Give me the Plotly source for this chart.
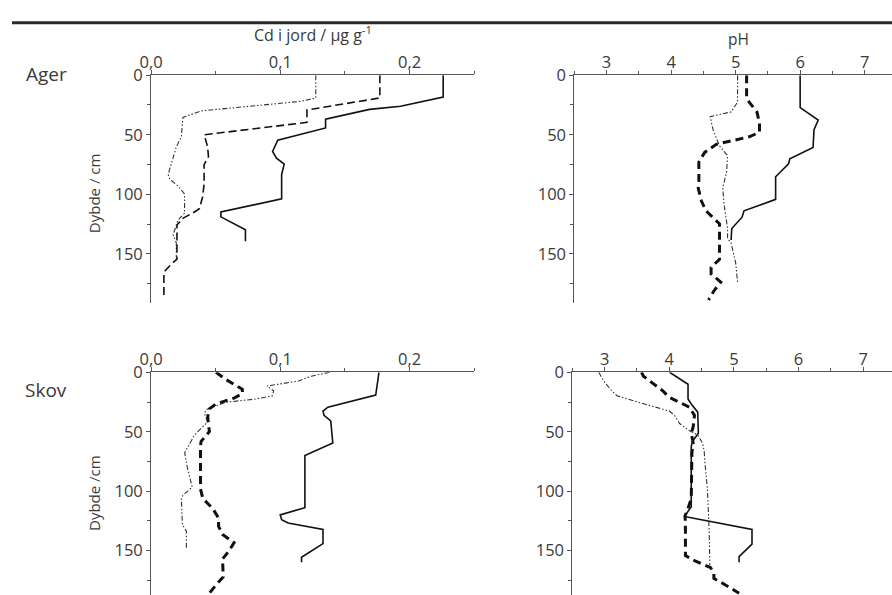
import plotly.graph_objects as go

# ---- Ager: Cd i jord (µg/g) mod dybde (cm) ----
ager_cd_1_depth = [0, 18.3, 26, 28.7, 36.9, 44.3, 54.6, 60, 64, 69.7, 74.6, 83.3, 103.8, 114.8, 118.9, 129.8, 139.3]
ager_cd_1 = [0.226, 0.226, 0.193, 0.169, 0.135, 0.135, 0.098, 0.096, 0.094, 0.097, 0.103, 0.101, 0.101, 0.054, 0.054, 0.073, 0.073]

ager_cd_2_depth = [0, 19.1, 29.2, 39.6, 50, 60.1, 68.3, 75.1, 91.5, 102.5, 112, 114.8, 120.2, 125.7, 154.4, 158.5, 165.3, 184.4]
ager_cd_2 = [0.177, 0.177, 0.1206, 0.1206, 0.0411, 0.0437, 0.0444, 0.041, 0.041, 0.0398, 0.0373, 0.0335, 0.0246, 0.020, 0.020, 0.0157, 0.0099, 0.0099]

ager_cd_3_depth = [0, 19.1, 21.9, 28.7, 30, 35.5, 51.9, 60.1, 69.7, 83.3, 87.4, 92.9, 99.7, 116, 121.6, 133.9, 140.7, 153]
ager_cd_3 = [0.1274, 0.1274, 0.116, 0.0475, 0.0386, 0.0246, 0.0234, 0.0195, 0.017, 0.0132, 0.0145, 0.0208, 0.0259, 0.0259, 0.0208, 0.017, 0.0195, 0.0195]

# ---- Ager: pH mod dybde ----
ager_ph_1_depth = [0, 27.2, 37.6, 45.7, 60.7, 70.2, 74.3, 85.2, 104.2, 113.8, 119.2, 128.7, 138.3]
ager_ph_1 = [6.0, 6.0, 6.28, 6.215, 6.2, 5.84, 5.82, 5.62, 5.62, 5.13, 5.10, 4.94, 4.93]

ager_ph_2_depth = [0, 18.5, 22.6, 30.8, 40.3, 47.9, 51.7, 55.3, 58, 64.8, 72.9, 89.3, 94.7, 105.6, 113.8, 120.6, 124.7, 154.6, 161.4, 166.8, 173.7, 180.5, 188.6]
ager_ph_2 = [5.17, 5.17, 5.21, 5.33, 5.37, 5.37, 5.21, 4.90, 4.70, 4.52, 4.43, 4.43, 4.42, 4.47, 4.54, 4.67, 4.75, 4.75, 4.62, 4.62, 4.77, 4.67, 4.58]

ager_ph_3_depth = [0, 22.6, 30.8, 34.8, 45.7, 59.3, 67.5, 81.1, 94.7, 108.3, 128.7, 136.9, 141, 157.3, 173.7]
ager_ph_3 = [5.03, 5.03, 4.93, 4.605, 4.65, 4.75, 4.875, 4.86, 4.80, 4.82, 4.875, 4.875, 4.93, 5.00, 5.03]

# ---- Skov: Cd i jord mod dybde ----
skov_cd_1_depth = [0, 10.1, 19.2, 29.3, 32.6, 36.2, 40.9, 59.5, 69.9, 113.8, 119.9, 124, 126.7, 132.2, 144, 155.5, 159.6]
skov_cd_1 = [0.1763, 0.175, 0.1738, 0.1368, 0.133, 0.1338, 0.139, 0.1406, 0.119, 0.119, 0.0999, 0.101, 0.106, 0.133, 0.133, 0.1164, 0.1164]

skov_cd_2_depth = [0, 6, 14.3, 18, 21.7, 26.6, 30.7, 37.6, 45.8, 49.9, 58.1, 62.3, 97.9, 106.1, 114.4, 122.6, 129.5, 136.3, 143.2, 150, 156.9, 172, 178.8, 185.7]
skov_cd_2 = [0.0502, 0.0578, 0.0706, 0.0706, 0.0642, 0.0502, 0.0451, 0.0438, 0.0446, 0.0451, 0.0387, 0.0382, 0.0382, 0.04, 0.0476, 0.0522, 0.0522, 0.0553, 0.0642, 0.0604, 0.0553, 0.0558, 0.0502, 0.0451]

skov_cd_3_depth = [0, 3.3, 7.4, 11.5, 15.6, 19.7, 22.5, 25.2, 31.5, 34.8, 41.7, 52.7, 67.7, 80, 96.5, 103.4, 106.1, 128.1, 133.6, 148.7]
skov_cd_3 = [0.138, 0.124, 0.114, 0.0897, 0.0948, 0.094, 0.0808, 0.0578, 0.0425, 0.0413, 0.0438, 0.0336, 0.026, 0.028, 0.0318, 0.0247, 0.0234, 0.0242, 0.0273, 0.0273]

# ---- Skov: pH mod dybde ----
skov_ph_1_depth = [0, 10.1, 22.5, 26.6, 33.5, 51.3, 58.1, 62.3, 113, 118.5, 121.2, 132.2, 144.5, 155, 159.6]
skov_ph_1 = [4.005, 4.29, 4.29, 4.34, 4.44, 4.45, 4.36, 4.34, 4.34, 4.26, 4.235, 5.28, 5.28, 5.08, 5.08]

skov_ph_2_depth = [0, 3.3, 15.6, 21.1, 25.2, 29.3, 36.2, 45.8, 51.3, 59.5, 67.7, 106.1, 114.4, 120.4, 133.6, 154.1, 158.3, 164.3, 169.2, 173.3, 178.8, 185.7]
skov_ph_2 = [3.57, 3.60, 3.90, 4.0, 4.16, 4.31, 4.39, 4.37, 4.34, 4.37, 4.35, 4.34, 4.29, 4.245, 4.25, 4.25, 4.39, 4.64, 4.69, 4.69, 4.87, 5.08]

skov_ph_3_depth = [0, 7.4, 15.6, 19.7, 25.2, 29.3, 32.6, 36.2, 43.1, 48.5, 52.7, 59.5, 66.4, 78.7, 97.9, 133.6, 162.4]
skov_ph_3 = [2.91, 2.985, 3.11, 3.19, 3.52, 3.80, 4.0, 4.08, 4.16, 4.29, 4.44, 4.515, 4.54, 4.556, 4.59, 4.617, 4.628]

cd_tickvals = [0.0, 0.1, 0.2]
cd_ticktext = ["0,0", "0,1", "0,2"]
ph_tickvals = [3, 4, 5, 6, 7]
depth_tickvals = [0, 50, 100, 150]

W, H = 892, 595
FONT = "Open Sans"
INK = "#3a3a3a"

# line styles: solid, dashed, dash-dot-dot
SOLID = dict(color="#111111", width=1.6, dash="solid")
DASH_THIN = dict(color="#111111", width=1.6, dash="8px,4px")
DASH_THICK = dict(color="#111111", width=3, dash="8px,5px")
DOTTED = dict(color="#333333", width=1.1, dash="5px,2px,1.5px,2px,1.5px,2px")

fig = go.Figure()


def add(x, y, line, ax):
    fig.add_trace(go.Scatter(x=x, y=y, mode="lines", line=line,
                             xaxis="x" + ax, yaxis="y" + ax,
                             showlegend=False, hoverinfo="skip"))


add(ager_cd_3, ager_cd_3_depth, DOTTED, "")
add(ager_cd_2, ager_cd_2_depth, DASH_THIN, "")
add(ager_cd_1, ager_cd_1_depth, SOLID, "")

add(ager_ph_3, ager_ph_3_depth, DOTTED, "2")
add(ager_ph_2, ager_ph_2_depth, DASH_THICK, "2")
add(ager_ph_1, ager_ph_1_depth, SOLID, "2")

add(skov_cd_3, skov_cd_3_depth, DOTTED, "3")
add(skov_cd_2, skov_cd_2_depth, DASH_THICK, "3")
add(skov_cd_1, skov_cd_1_depth, SOLID, "3")

add(skov_ph_3, skov_ph_3_depth, DOTTED, "4")
add(skov_ph_2, skov_ph_2_depth, DASH_THICK, "4")
add(skov_ph_1, skov_ph_1_depth, SOLID, "4")


def px_x(p):
    return p / W


def px_y(p):
    return 1 - p / H


common = dict(showline=True, linecolor="#555555", linewidth=1,
              ticks="outside", ticklen=4, tickwidth=1, tickcolor="#555555",
              showgrid=False, zeroline=False, mirror=False,
              tickfont=dict(family=FONT, size=16.5, color=INK))


def xax(dom, rng, vals, text, minor_dt, anchor):
    d = dict(common)
    d.update(domain=dom, range=rng, side="top", anchor=anchor,
             tickmode="array", tickvals=vals,
             ticktext=text if text else [str(v) for v in vals],
             ticklabelstandoff=-4,
             minor=dict(ticks="outside", dtick=minor_dt, ticklen=3,
                        tickcolor="#555555", tick0=0, showgrid=False))
    return d


def yax(dom, rng, anchor):
    d = dict(common)
    d.update(domain=dom, range=rng, anchor=anchor,
             tickmode="array", tickvals=depth_tickvals,
             minor=dict(ticks="outside", dtick=25, tick0=0, ticklen=3,
                        tickcolor="#555555", showgrid=False))
    return d


top_dom = [px_y(297), px_y(64.5)]
bot_dom = [0, px_y(367.7)]
left_dom = [px_x(141), px_x(468.5)]

fig.update_layout(
    width=W, height=H,
    margin=dict(l=0, r=0, t=0, b=0),
    paper_bgcolor="white", plot_bgcolor="white",
    xaxis=xax(left_dom, [0, 0.25], cd_tickvals, cd_ticktext, 0.05, "y"),
    yaxis=yax(top_dom, [(297 - 64.5) / 60.8 * 50, 0], "x"),
    xaxis2=xax([px_x(570), 1], [2.5, 2.5 + (W - 570) / 65.4], ph_tickvals, None, 0.5, "y2"),
    yaxis2=yax(top_dom, [(297 - 64.5) / 60.8 * 50, 0], "x2"),
    xaxis3=xax(left_dom, [0, 0.25], cd_tickvals, cd_ticktext, 0.05, "y3"),
    yaxis3=yax(bot_dom, [(H - 367.7) / 60.7 * 50, 0], "x3"),
    xaxis4=xax([px_x(568), 1], [2.5, 2.5 + (W - 568) / 65.5], ph_tickvals, None, 0.5, "y4"),
    yaxis4=yax(bot_dom, [(H - 367.7) / 60.7 * 50, 0], "x4"),
)

# rule across the top of the figure
fig.add_shape(type="line", xref="paper", yref="paper",
              x0=0, x1=1, y0=px_y(11), y1=px_y(11),
              line=dict(color="#2b2b2b", width=3))


def label(text, x, y, size, xanchor="center", yanchor="middle", angle=0):
    fig.add_annotation(text=text, x=px_x(x), y=px_y(y), xref="paper", yref="paper",
                       xanchor=xanchor, yanchor=yanchor, showarrow=False,
                       textangle=angle,
                       font=dict(family=FONT, size=size, color=INK))


label("Cd i jord / µg g<sup>-1</sup>", 305, 37, 16, yanchor="bottom")
label("pH", 736, 41, 15.5, yanchor="bottom")
label("Ager", 12, 63, 19, xanchor="left")
label("Skov", 11, 386, 19, xanchor="left")
label("Dybde / cm", 83, 185, 15, angle=-90)
label("Dybde /cm", 83, 491, 15, angle=-90)

fig.write_html("out.html",
               post_script="document.body.style.margin='0';document.body.style.overflow='hidden';")
